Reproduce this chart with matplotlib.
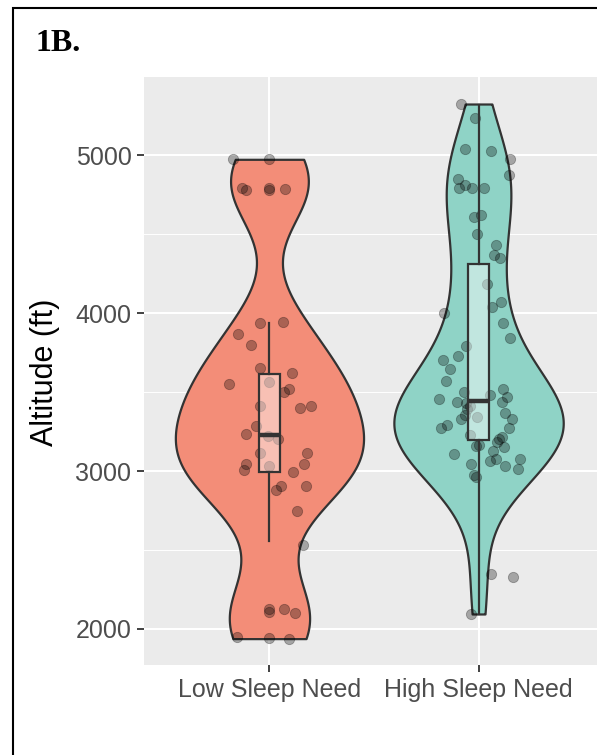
import matplotlib
matplotlib.use('Agg')
import matplotlib.pyplot as plt
from matplotlib.patches import Rectangle
import numpy as np

# Data
groups = ["Low Sleep Need", "High Sleep Need"]
fill_colors = ["#F38D78", "#8FD3C6"]

low_alt = [4973, 4973, 4793, 4778, 4793, 4778, 4787, 3939, 3943, 3869,
           3797, 3652, 3618, 3552, 3565, 3503, 3517, 3411, 3401, 3414,
           3285, 3233, 3223, 3200, 3116, 3112, 3046, 3042, 3004, 3032,
           2995, 2908, 2877, 2904, 2746, 2529, 2125, 2110, 2125, 2103,
           1949, 1945, 1939]
low_jit = [-0.175, 0.0, -0.133, -0.11, 0.0, 0.0, 0.076, -0.043, 0.063, -0.149,
           -0.09, -0.043, 0.108, -0.194, 0.0, 0.071, 0.092, -0.046, 0.148, 0.2,
           -0.063, -0.114, -0.005, 0.04, -0.046, 0.18, 0.163, -0.114, -0.122, 0.0,
           0.113, 0.056, 0.032, 0.175, 0.132, 0.159, 0.0, 0.0, 0.071, 0.12,
           -0.156, 0.0, 0.092]

high_alt = [5323, 5232, 5036, 5025, 4973, 4873, 4846, 4789, 4810, 4793,
            4789, 4610, 4620, 4498, 4430, 4367, 4346, 4184, 4002, 4068,
            4040, 3935, 3844, 3791, 3728, 3703, 3644, 3570, 3502, 3453,
            3439, 3428, 3411, 3390, 3481, 3517, 3466, 3439, 3369, 3329,
            3340, 3327, 3354, 3274, 3291, 3270, 3228, 3203, 3213, 3186,
            3154, 3158, 3165, 3129, 3106, 3076, 3063, 3076, 3044, 3034,
            3013, 2975, 2964, 2348, 2327, 2095]
high_jit = [-0.082, -0.016, -0.067, 0.06, 0.152, 0.148, -0.1, -0.095, -0.063, -0.032,
            0.025, -0.023, 0.012, -0.008, 0.084, 0.076, 0.103, 0.04, -0.165, 0.108,
            0.065, 0.116, 0.151, -0.062, -0.1, -0.17, -0.138, -0.157, -0.071, -0.19,
            -0.103, -0.062, -0.043, -0.056, 0.057, 0.119, 0.137, 0.113, 0.127, 0.159,
            -0.008, -0.086, -0.067, -0.178, -0.149, 0.148, -0.043, 0.1, 0.113, 0.087,
            0.124, -0.011, 0.001, 0.068, -0.118, 0.198, 0.057, 0.084, -0.035, 0.127,
            0.187, -0.022, -0.014, 0.06, 0.163, -0.035]

# boxplot summary (whisker low, q1, median, q3, whisker high)
low_box = [2557, 2995, 3228, 3612, 3939]
high_box = [2095, 3196, 3445, 4308, 5318]

yticks = [2000, 3000, 4000, 5000]


def nrd0_factor(x):
    # R's default bandwidth expressed as a factor of the sample sd
    x = np.asarray(x, float)
    sd = x.std(ddof=1)
    iqr = np.subtract(*np.percentile(x, [75, 25]))
    bw = 0.9 * min(sd, iqr / 1.34) * len(x) ** -0.2
    return bw / sd


plt.rcParams['font.family'] = ['Liberation Sans', 'DejaVu Sans']

fig = plt.figure(figsize=(5.97, 7.55), dpi=100)
ax = fig.add_axes([144 / 597, 90 / 755, 460 / 597, 588 / 755])
ax.set_facecolor('#EBEBEB')

data = [low_alt, high_alt]
pos = [1, 2]
for i, (vals, col) in enumerate(zip(data, fill_colors)):
    vp = ax.violinplot([vals], positions=[pos[i]], widths=[0.9, 0.81][i],
                       bw_method=nrd0_factor(vals), points=512,
                       showextrema=False)
    for b in vp['bodies']:
        b.set_facecolor(col)
        b.set_edgecolor('#333333')
        b.set_linewidth(1.6)
        b.set_alpha(1)
        b.set_zorder(2)

jits = [low_jit, high_jit]
for i in range(2):
    ax.scatter(pos[i] + np.array(jits[i]), data[i], s=55, color='black',
               alpha=0.3, linewidths=0.6, zorder=3)

stats = []
for b in [low_box, high_box]:
    stats.append(dict(whislo=b[0], q1=b[1], med=b[2], q3=b[3], whishi=b[4]))
ax.bxp(stats, positions=pos, widths=0.1, patch_artist=True, showfliers=False,
       showcaps=False,
       boxprops=dict(facecolor=(1, 1, 1, 0.45), edgecolor='#333333', linewidth=1.6),
       whiskerprops=dict(color='#333333', linewidth=1.6),
       medianprops=dict(color='#333333', linewidth=3.2),
       zorder=4)

ax.set_xlim(0.4, 2.6)
ax.set_ylim(1772, 5494)
ax.set_xticks(pos)
ax.set_xticklabels(groups)
ax.set_yticks(yticks)
ax.set_yticks([2500, 3500, 4500], minor=True)
ax.tick_params(axis='both', which='major', labelsize=18, labelcolor='#4D4D4D',
               color='#333333', length=5, width=1.3, pad=4)
ax.tick_params(axis='y', which='minor', length=0)
ax.set_axisbelow(True)
ax.grid(True, which='major', color='white', linewidth=1.5)
ax.grid(True, which='minor', axis='y', color='white', linewidth=0.7)
for s in ax.spines.values():
    s.set_visible(False)

fig.text(45 / 597, 1 - 372 / 755, 'Altitude (ft)', rotation=90, ha='center',
         va='center', fontsize=22, color='black')
fig.text(36 / 597, 1 - 51 / 755, '1B.', fontsize=23, fontweight='bold',
         family=['Liberation Serif'], ha='left', va='baseline')

# outer frame (runs off the right and bottom edges)
fig.add_artist(Rectangle((13 / 597, -0.1), 2, 1.1 - 8 / 755, fill=False,
                         edgecolor='black', linewidth=1.5,
                         transform=fig.transFigure))

fig.savefig('out.png', dpi=100)
